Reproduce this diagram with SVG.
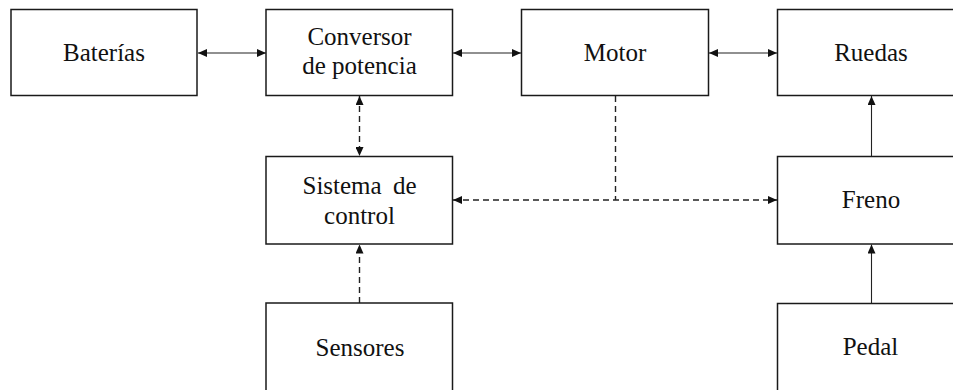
<svg xmlns="http://www.w3.org/2000/svg" width="953" height="390" viewBox="0 0 953 390">
  <style>
    .box { fill: #ffffff; stroke: #1a1a1a; stroke-width: 1.5; }
    .lbl { font-family: "Liberation Serif", "Times New Roman", serif; font-size: 25px; fill: #111111; text-anchor: middle; }
    .link { fill: none; stroke: #222222; stroke-width: 1.1; }
    .dash { stroke-dasharray: 6 4; stroke-width: 1.4; }
  </style>
  <defs>
    <marker id="tip" markerUnits="userSpaceOnUse" markerWidth="9" markerHeight="8" viewBox="0 0 9 8" refX="9" refY="4" orient="auto-start-reverse">
      <path d="M0,0 L9,4 L0,8 z" fill="#111111"/>
    </marker>
  </defs>
  <rect width="953" height="390" fill="#ffffff"/>

  <g id="connectors">
    <line class="link" x1="198" y1="53" x2="266" y2="53" marker-start="url(#tip)" marker-end="url(#tip)"/>
    <line class="link" x1="453" y1="53" x2="521" y2="53" marker-start="url(#tip)" marker-end="url(#tip)"/>
    <line class="link" x1="709" y1="53" x2="777" y2="53" marker-start="url(#tip)" marker-end="url(#tip)"/>
    <line class="link dash" x1="359.5" y1="96" x2="359.5" y2="156" marker-start="url(#tip)" marker-end="url(#tip)"/>
    <line class="link dash" x1="359.5" y1="303" x2="359.5" y2="244.5" marker-end="url(#tip)"/>
    <line class="link dash" x1="453" y1="200" x2="777" y2="200" marker-start="url(#tip)" marker-end="url(#tip)"/>
    <line class="link dash" x1="615.5" y1="96" x2="615.5" y2="200"/>
    <line class="link" x1="871.5" y1="156" x2="871.5" y2="96" marker-end="url(#tip)"/>
    <line class="link" x1="871.5" y1="303" x2="871.5" y2="244.5" marker-end="url(#tip)"/>
  </g>

  <g id="baterias">
    <rect class="box" x="11" y="9.5" width="186" height="86"/>
    <text class="lbl" x="104" y="60.5">Baterías</text>
  </g>
  <g id="conversor">
    <rect class="box" x="266" y="9.5" width="186.5" height="86"/>
    <text class="lbl" x="359.5" y="44.5">Conversor</text>
    <text class="lbl" x="359.5" y="73.5">de potencia</text>
  </g>
  <g id="motor">
    <rect class="box" x="521.5" y="9.5" width="187" height="86"/>
    <text class="lbl" x="615" y="60.5">Motor</text>
  </g>
  <g id="ruedas">
    <rect class="box" x="777.5" y="9.5" width="187" height="86"/>
    <text class="lbl" x="871" y="60.5">Ruedas</text>
  </g>
  <g id="sistema-control">
    <rect class="box" x="266" y="156.5" width="186.5" height="87.5"/>
    <text class="lbl" x="359.5" y="194" word-spacing="5">Sistema de</text>
    <text class="lbl" x="359.5" y="223.5">control</text>
  </g>
  <g id="freno">
    <rect class="box" x="777.5" y="156.5" width="187" height="87.5"/>
    <text class="lbl" x="871" y="208">Freno</text>
  </g>
  <g id="sensores">
    <rect class="box" x="266" y="303" width="186.5" height="95"/>
    <text class="lbl" x="360" y="356">Sensores</text>
  </g>
  <g id="pedal">
    <rect class="box" x="777.5" y="303.5" width="187" height="95"/>
    <text class="lbl" x="870.5" y="355">Pedal</text>
  </g>
</svg>
